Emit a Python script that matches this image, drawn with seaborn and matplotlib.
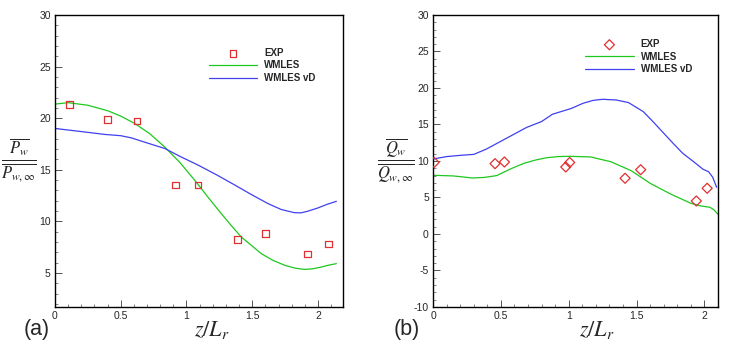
import numpy as np
import pandas as pd
import matplotlib
matplotlib.use("Agg")
import matplotlib.pyplot as plt
import seaborn as sns
from matplotlib.ticker import MultipleLocator

# Panel (a): wall pressure
exp_a_x = [0.11, 0.40, 0.625, 0.915, 1.086, 1.39, 1.60, 1.92, 2.08]
exp_a_y = [21.3, 19.85, 19.7, 13.5, 13.5, 8.25, 8.8, 6.85, 7.8]
wm_a_x = [0.0, 0.1, 0.25, 0.405, 0.5, 0.607, 0.72, 0.835, 0.95, 1.063, 1.16, 1.265, 1.34, 1.417, 1.5, 1.57, 1.66, 1.75, 1.83, 1.9, 1.96, 2.025, 2.08, 2.14]
wm_a_y = [21.36, 21.5, 21.25, 20.7, 20.2, 19.48, 18.5, 17.2, 15.7, 13.98, 12.4, 10.74, 9.6, 8.48, 7.6, 6.86, 6.2, 5.73, 5.45, 5.34, 5.4, 5.57, 5.75, 5.9]
vd_a_x = [0.0, 0.2, 0.38, 0.5, 0.58, 0.7, 0.835, 0.95, 1.09, 1.23, 1.37, 1.5, 1.62, 1.72, 1.82, 1.87, 1.92, 2.0, 2.07, 2.14]
vd_a_y = [19.0, 18.7, 18.42, 18.3, 18.09, 17.6, 17.06, 16.3, 15.44, 14.5, 13.5, 12.55, 11.72, 11.15, 10.84, 10.82, 10.97, 11.3, 11.65, 11.94]

# Panel (b): wall heat flux
exp_b_x = [0.008, 0.457, 0.526, 0.978, 1.007, 1.415, 1.53, 1.94, 2.02]
exp_b_y = [9.8, 9.63, 9.86, 9.18, 9.8, 7.63, 8.8, 4.52, 6.26]
wm_b_x = [0.0, 0.15, 0.29, 0.38, 0.47, 0.57, 0.67, 0.76, 0.84, 0.92, 1.01, 1.16, 1.31, 1.46, 1.6, 1.75, 1.9, 1.97, 2.04, 2.07, 2.1]
wm_b_y = [8.04, 7.95, 7.67, 7.75, 8.0, 8.9, 9.68, 10.15, 10.45, 10.6, 10.64, 10.55, 9.9, 8.67, 6.94, 5.48, 4.2, 3.85, 3.66, 3.3, 2.7]
vd_b_x = [0.0, 0.1, 0.22, 0.3, 0.39, 0.52, 0.69, 0.8, 0.88, 1.02, 1.105, 1.18, 1.25, 1.35, 1.44, 1.55, 1.62, 1.70, 1.77, 1.84, 1.92, 1.99, 2.03, 2.06, 2.09]
vd_b_y = [10.27, 10.6, 10.8, 10.9, 11.6, 12.9, 14.6, 15.4, 16.4, 17.2, 17.9, 18.3, 18.45, 18.35, 18.0, 16.75, 15.4, 13.8, 12.4, 11.05, 9.9, 8.86, 8.53, 7.8, 6.4]

sns.set_style("white")
plt.rcParams['font.family'] = ['Liberation Sans', 'DejaVu Sans']
plt.rcParams['mathtext.fontset'] = 'stix'
plt.rcParams['axes.unicode_minus'] = False

green = '#1ec81e'
blue = '#4040f0'
red = '#e03030'

fig = plt.figure(figsize=(7.47, 3.51), dpi=100)
ax1 = fig.add_axes([0.0736, 0.1254, 0.3855, 0.832])
ax2 = fig.add_axes([0.5797, 0.1254, 0.3815, 0.832])


def draw(ax, ex, ey, wx, wy, vx, vy, marker, ylim, xlim, ylabel, tag, leg_anchor, xlab_x, ylab_x, tag_x):
    sns.lineplot(x=wx, y=wy, ax=ax, color=green, lw=0.9, label='WMLES', sort=False)
    sns.lineplot(x=vx, y=vy, ax=ax, color=blue, lw=0.9, label='WMLES vD', sort=False)
    sns.scatterplot(x=ex, y=ey, ax=ax, marker=marker, s=22 if marker == 's' else 26,
                    facecolor='none', edgecolor=red, linewidth=0.9, label='EXP', zorder=5)
    ax.set_xlim(*xlim)
    ax.set_ylim(*ylim)
    ax.xaxis.set_major_locator(MultipleLocator(0.5))
    ax.xaxis.set_minor_locator(MultipleLocator(0.1))
    ax.yaxis.set_major_locator(MultipleLocator(5))
    ax.yaxis.set_minor_locator(MultipleLocator(1))
    ax.xaxis.set_major_formatter(plt.FuncFormatter(lambda v, p: '%g' % v))
    ax.tick_params(which='both', direction='in', labelsize=7.5, color='#555555',
                   left=True, bottom=True, top=False, right=False, pad=3)
    ax.tick_params(which='major', length=5, width=0.7)
    ax.tick_params(which='minor', length=2.5, width=0.5)
    for sp in ax.spines.values():
        sp.set_color('black')
        sp.set_linewidth(1.0)
    ax.set_xlabel(r'$z/L_r$', fontsize=16, labelpad=0)
    ax.xaxis.set_label_coords(xlab_x, -0.04)
    ax.xaxis.label.set_va('top')
    ax.set_ylabel(ylabel, fontsize=17, rotation=0, va='center', ha='center')
    ax.yaxis.set_label_coords(ylab_x, 0.5)
    handles, labels = ax.get_legend_handles_labels()
    order = [2, 0, 1]
    ax.legend([handles[i] for i in order], [labels[i] for i in order], frameon=False,
              loc='upper left', bbox_to_anchor=leg_anchor, prop={'weight': 'bold', 'size': 7},
              handlelength=5.0, handletextpad=0.7, labelspacing=0.25, borderaxespad=0)
    ax.text(tag_x, -0.04, tag, transform=ax.transAxes, fontsize=15.5, va='top')


draw(ax1, exp_a_x, exp_a_y, wm_a_x, wm_a_y, vd_a_x, vd_a_y, 's', (1.7, 30), (0, 2.19),
     r'$\frac{\overline{P_w}}{\overline{P_{w,\infty}}}$', '(a)', (0.52, 0.9), 0.545, -0.125, -0.11)
draw(ax2, exp_b_x, exp_b_y, wm_b_x, wm_b_y, vd_b_x, vd_b_y, 'D', (-10, 30), (0, 2.1),
     r'$\frac{\overline{Q_w}}{\overline{Q_{w,\infty}}}$', '(b)', (0.52, 0.93), 0.575, -0.13, -0.14)

fig.savefig('out.png', dpi=100)
